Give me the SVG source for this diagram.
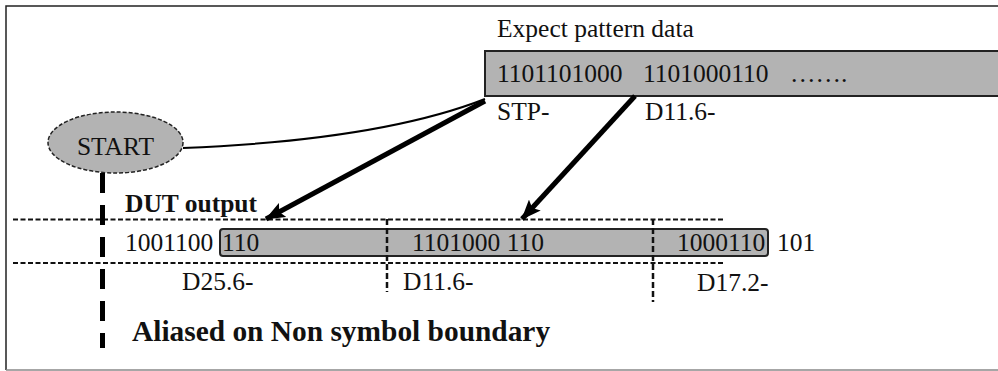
<svg xmlns="http://www.w3.org/2000/svg" width="998" height="371" viewBox="0 0 998 371">
<style>
text{font-family:"Liberation Serif","Times New Roman",serif;fill:#111;}
.t{font-size:25.5px;}
.b{font-size:25.5px;font-weight:bold;}
.big{font-size:29.4px;font-weight:bold;}
.fill{fill:#b3b3b3;stroke:#222;stroke-width:2;}
.hd{fill:none;stroke:#111;stroke-width:2;stroke-dasharray:5 2.5;}
.vd{fill:none;stroke:#111;stroke-width:2.5;stroke-dasharray:6 3;}
.arr{fill:none;stroke:#000;stroke-width:5;}
</style>
<defs>
<marker id="ah" markerWidth="10" markerHeight="10" refX="7" refY="5" orient="auto" markerUnits="userSpaceOnUse" viewBox="0 0 10 10">
<path d="M0,0 L10,5 L0,10 Z" fill="#000"/>
</marker>
<marker id="ah2" viewBox="0 0 20 16" refX="19" refY="8" markerWidth="20" markerHeight="16" orient="auto" markerUnits="userSpaceOnUse">
<path d="M0,0 L20,8 L0,16 L4,8 Z" fill="#000"/>
</marker>
</defs>
<g id="frame">
<path d="M6,370 L6,6 L998,6" fill="none" stroke="#222" stroke-width="1.5"/>
<path d="M6,370 L998,370" fill="none" stroke="#888" stroke-width="1.5"/>
</g>
<g id="expect">
<text class="t" x="497" y="37">Expect pattern data</text>
<rect class="fill" x="485" y="51" width="520" height="45"/>
<text class="t" x="497" y="82">1101101000</text>
<text class="t" x="643" y="82">1101000110</text>
<text class="t" x="790" y="82">…….</text>
<text class="t" x="497" y="120">STP-</text>
<text class="t" x="645" y="120">D11.6-</text>
</g>
<g id="start">
<ellipse cx="115.5" cy="142.5" rx="67.5" ry="30.5" fill="#b3b3b3" stroke="#222" stroke-width="1.5" stroke-dasharray="4 2"/>
<text class="t" x="115.5" y="155" text-anchor="middle">START</text>
</g>
<g id="dut">
<text class="b" x="125" y="212">DUT output</text>
<rect class="fill" x="220" y="229" width="548" height="27" rx="3" ry="3"/>
<text class="t" x="125" y="251">1001100</text>
<text class="t" x="222" y="251">110</text>
<text class="t" x="412" y="251">1101000 110</text>
<text class="t" x="677" y="251">1000110</text>
<text class="t" x="777" y="251">101</text>
<text class="t" x="182" y="290">D25.6-</text>
<text class="t" x="403" y="290">D11.6-</text>
<text class="t" x="697" y="291">D17.2-</text>
</g>
<g id="note">
<text class="big" x="132" y="341">Aliased on Non symbol boundary</text>
</g>
<g id="connectors">
<line class="hd" x1="13" y1="219.5" x2="725" y2="219.5"/>
<line class="hd" x1="13" y1="263" x2="725" y2="263"/>
<line class="vd" x1="387" y1="219" x2="387" y2="292"/>
<line class="vd" x1="653" y1="219" x2="653" y2="302"/>
<line x1="102.5" y1="173" x2="102.5" y2="348" stroke="#000" stroke-width="5" stroke-dasharray="20 12"/>
<path d="M183,148 Q380,140 485,99" fill="none" stroke="#000" stroke-width="2"/>
<line class="arr" x1="485" y1="101" x2="266" y2="219" marker-end="url(#ah2)"/>
<line class="arr" x1="635" y1="96" x2="522" y2="219" marker-end="url(#ah2)"/>
</g>
</svg>
